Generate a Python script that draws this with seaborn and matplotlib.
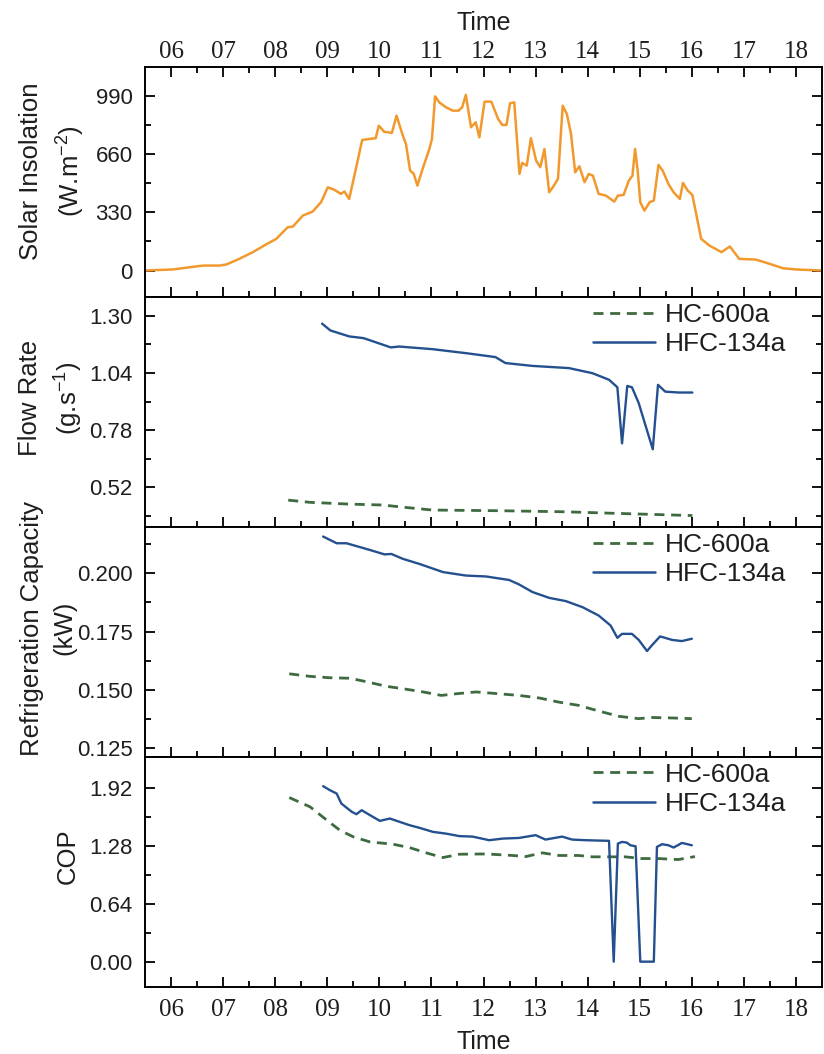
import matplotlib
matplotlib.use("Agg")
import matplotlib.pyplot as plt
import seaborn as sns
from matplotlib.lines import Line2D
from matplotlib.ticker import FixedLocator

# ---------------- data ----------------
hour_ticks = [6, 7, 8, 9, 10, 11, 12, 13, 14, 15, 16, 17, 18]
hour_labels = ["06", "07", "08", "09", "10", "11", "12", "13", "14", "15", "16", "17", "18"]

solar_time = [5.50, 6.03, 6.61, 6.93, 7.06, 7.31, 7.57, 7.82, 8.02, 8.24, 8.34, 8.53, 8.72, 8.88,
              9.01, 9.13, 9.26, 9.33, 9.42, 9.52, 9.67, 9.81, 9.93, 9.99, 10.09, 10.24, 10.33,
              10.45, 10.51, 10.59, 10.66, 10.73, 10.83, 10.96, 11.01, 11.07, 11.15, 11.28, 11.41,
              11.52, 11.59, 11.66, 11.76, 11.85, 11.92, 12.02, 12.15, 12.28, 12.36, 12.44, 12.51,
              12.59, 12.69, 12.74, 12.83, 12.91, 13.01, 13.09, 13.17, 13.26, 13.33, 13.43, 13.52,
              13.60, 13.68, 13.76, 13.84, 13.94, 14.02, 14.10, 14.21, 14.35, 14.51, 14.58, 14.69,
              14.79, 14.86, 14.91, 14.96, 15.01, 15.09, 15.19, 15.27, 15.36, 15.44, 15.55, 15.65,
              15.77, 15.83, 15.92, 16.01, 16.18, 16.34, 16.57, 16.73, 16.91, 17.23, 17.49, 17.75,
              18.00, 18.50]
solar_value = [0, 6, 28, 28, 34, 66, 104, 147, 179, 245, 249, 311, 334, 387,
               471, 458, 434, 447, 405, 537, 739, 745, 749, 820, 786, 779, 877,
               764, 717, 566, 547, 481, 575, 688, 745, 986, 952, 924, 905,
               905, 924, 994, 811, 839, 754, 956, 956, 858, 824, 824, 947,
               952, 547, 609, 594, 749, 622, 585, 688, 443, 471, 519, 933,
               886, 773, 556, 590, 500, 547, 537, 434, 424, 390, 424, 428,
               509, 537, 688, 566, 387, 339, 387, 396, 598, 566, 490, 443,
               405, 496, 453, 428, 179, 141, 104, 136, 66, 62, 38, 13,
               6, 0]

flow_hfc_time = [8.90, 9.06, 9.42, 9.70, 10.22, 10.38, 11.02, 11.66, 12.23, 12.42, 12.94, 13.64,
                 14.09, 14.41, 14.57, 14.66, 14.76, 14.85, 14.98, 15.25, 15.35, 15.49, 15.75, 16.01]
flow_hfc = [1.264, 1.233, 1.206, 1.198, 1.156, 1.160, 1.148, 1.130, 1.112, 1.085, 1.072, 1.062,
            1.039, 1.009, 0.975, 0.720, 0.981, 0.975, 0.903, 0.693, 0.986, 0.955, 0.951, 0.951]
flow_hc_time = [8.25, 8.67, 9.42, 10.06, 10.50, 11.02, 12.30, 13.58, 14.54, 16.01]
flow_hc = [0.462, 0.452, 0.444, 0.440, 0.429, 0.417, 0.414, 0.409, 0.402, 0.392]

cap_hfc_time = [8.92, 9.18, 9.37, 9.82, 10.10, 10.23, 10.45, 10.77, 11.22, 11.66, 12.05, 12.49,
                12.68, 12.94, 13.26, 13.58, 13.90, 14.21, 14.44, 14.57, 14.66, 14.85, 14.98,
                15.14, 15.23, 15.39, 15.62, 15.81, 16.00]
cap_hfc = [0.2159, 0.2130, 0.2130, 0.2101, 0.2082, 0.2084, 0.2063, 0.2041, 0.2006, 0.1991,
           0.1987, 0.1972, 0.1953, 0.1920, 0.1895, 0.1881, 0.1855, 0.1819, 0.1776, 0.1723,
           0.1740, 0.1740, 0.1714, 0.1666, 0.1690, 0.1729, 0.1714, 0.1709, 0.1719]
cap_hc_time = [8.27, 8.67, 9.05, 9.43, 9.69, 10.14, 10.45, 10.84, 11.19, 11.47, 11.86, 12.30,
               12.68, 13.07, 13.45, 13.83, 14.21, 14.60, 14.98, 15.23, 15.62, 16.00]
cap_hc = [0.1568, 0.1557, 0.1551, 0.1549, 0.1537, 0.1514, 0.1504, 0.1490, 0.1475, 0.1482,
          0.1490, 0.1482, 0.1475, 0.1464, 0.1446, 0.1432, 0.1408, 0.1385, 0.1375, 0.1380,
          0.1378, 0.1375]

cop_hfc_time = [8.92, 9.05, 9.18, 9.27, 9.47, 9.56, 9.66, 9.82, 10.01, 10.20, 10.39, 10.58,
                10.77, 11.03, 11.28, 11.54, 11.79, 12.11, 12.37, 12.68, 13.00, 13.19, 13.51,
                13.70, 13.96, 14.41, 14.50, 14.58, 14.66, 14.75, 14.82, 14.92, 15.01, 15.27,
                15.33, 15.43, 15.55, 15.65, 15.81, 16.00]
cop_hfc = [1.942, 1.898, 1.860, 1.750, 1.658, 1.632, 1.676, 1.621, 1.558, 1.584, 1.547, 1.510,
           1.481, 1.436, 1.417, 1.389, 1.384, 1.344, 1.362, 1.369, 1.400, 1.351, 1.384,
           1.351, 1.344, 1.337, 0.0, 1.307, 1.325, 1.318, 1.288, 1.277, 0.0, 0.0,
           1.270, 1.300, 1.288, 1.263, 1.314, 1.288]
cop_hc_time = [8.27, 8.67, 8.99, 9.24, 9.50, 9.82, 10.26, 10.58, 10.90, 11.22, 11.54, 12.05,
               12.56, 12.81, 13.13, 13.45, 13.83, 14.09, 14.41, 14.72, 15.04, 15.36, 15.74, 16.06]
cop_hc = [1.816, 1.713, 1.566, 1.455, 1.381, 1.325, 1.300, 1.262, 1.204, 1.152, 1.189, 1.192,
          1.175, 1.163, 1.204, 1.175, 1.175, 1.160, 1.160, 1.160, 1.141, 1.141, 1.130, 1.163]

series_labels = ["HC-600a", "HFC-134a"]
ylabels = ["Solar Insolation\n(W.m$^{-2}$)", "Flow Rate\n(g.s$^{-1}$)",
           "Refrigeration Capacity\n(kW)", "COP"]

# ---------------- style ----------------
sns.set_theme(style="ticks")
plt.rcParams["font.family"] = ["Liberation Sans", "DejaVu Sans"]
plt.rcParams["mathtext.fontset"] = "custom"
plt.rcParams["mathtext.rm"] = "Liberation Sans"
plt.rcParams["mathtext.it"] = "Liberation Sans"
plt.rcParams["mathtext.default"] = "regular"

ORANGE = "#F2992E"
BLUE = "#24508F"
GREEN = "#3D6B3F"
DASH = (0, (3.6, 2.4))
TXT = "#1e1e1e"

fig, axes = plt.subplots(4, 1, figsize=(8.24, 10.54), dpi=100,
                         gridspec_kw=dict(hspace=0))
fig.subplots_adjust(left=0.176, right=0.9976, bottom=0.0636, top=0.9364)

ax0, ax1, ax2, ax3 = axes

sns.lineplot(x=solar_time, y=solar_value, ax=ax0, color=ORANGE, linewidth=1.8,
             estimator=None, sort=False)
sns.lineplot(x=flow_hc_time, y=flow_hc, ax=ax1, color=GREEN, linewidth=2.0,
             linestyle=DASH, estimator=None, sort=False)
sns.lineplot(x=flow_hfc_time, y=flow_hfc, ax=ax1, color=BLUE, linewidth=1.7,
             estimator=None, sort=False)
sns.lineplot(x=cap_hc_time, y=cap_hc, ax=ax2, color=GREEN, linewidth=2.0,
             linestyle=DASH, estimator=None, sort=False)
sns.lineplot(x=cap_hfc_time, y=cap_hfc, ax=ax2, color=BLUE, linewidth=1.7,
             estimator=None, sort=False)
sns.lineplot(x=cop_hc_time, y=cop_hc, ax=ax3, color=GREEN, linewidth=2.0,
             linestyle=DASH, estimator=None, sort=False)
sns.lineplot(x=cop_hfc_time, y=cop_hfc, ax=ax3, color=BLUE, linewidth=1.7,
             estimator=None, sort=False)

yconf = [
    dict(lim=(-150, 1152), major=[0, 330, 660, 990], minor=[165, 495, 825], fmt="{:.0f}", lx=-0.086, ly=0.548),
    dict(lim=(0.34, 1.385), major=[0.52, 0.78, 1.04, 1.30], minor=[0.39, 0.65, 0.91, 1.17], fmt="{:.2f}", lx=-0.088, ly=0.56),
    dict(lim=(0.121, 0.220), major=[0.125, 0.150, 0.175, 0.200], minor=[0.1375, 0.1625, 0.1875, 0.2125], fmt="{:.3f}", lx=-0.101, ly=0.56),
    dict(lim=(-0.28, 2.265), major=[0.0, 0.64, 1.28, 1.92], minor=[0.32, 0.96, 1.60], fmt="{:.2f}", lx=-0.097, ly=0.57),
]

minor_hours = [h + 0.5 for h in hour_ticks[:-1]]

for i, ax in enumerate(axes):
    c = yconf[i]
    ax.set_ylim(*c["lim"])
    ax.set_yticks(c["major"], labels=[c["fmt"].format(v) for v in c["major"]])
    ax.yaxis.set_minor_locator(FixedLocator(c["minor"]))
    ax.set_xlim(5.5, 18.5)
    ax.set_xticks(hour_ticks, labels=hour_labels)
    ax.xaxis.set_minor_locator(FixedLocator(minor_hours))
    for sp in ax.spines.values():
        sp.set_linewidth(1.4)
        sp.set_color("black")
        sp.set_visible(True)
    ax.tick_params(axis="y", which="both", direction="in", left=True, right=True,
                   labelleft=True, labelright=False, labelsize=16, pad=9,
                   color="black", labelcolor=TXT)
    ax.tick_params(axis="y", which="major", length=7, width=1.3)
    ax.tick_params(axis="y", which="minor", length=4, width=1.3)
    ax.tick_params(axis="x", which="both", direction="in", bottom=True, top=False,
                   labelbottom=False, labeltop=False, color="black")
    ax.tick_params(axis="x", which="major", length=7, width=1.3)
    ax.tick_params(axis="x", which="minor", length=4, width=1.3)
    ax.set_ylabel(ylabels[i], fontsize=18.5, linespacing=1.45, color=TXT)
    ax.yaxis.set_label_coords(c["lx"], c["ly"])
    ax.set_xlabel("")
    ax.grid(False)

ax0.tick_params(axis="x", which="both", top=True, labeltop=True, labelsize=18,
                labelfontfamily="Liberation Serif", pad=3, labelcolor=TXT)
ax3.tick_params(axis="x", which="both", labelbottom=True, labelsize=18,
                labelfontfamily="Liberation Serif", pad=9, labelcolor=TXT)

ax0.xaxis.set_label_position("top")
ax0.set_xlabel("Time", fontsize=18, labelpad=8, color=TXT)
ax3.set_xlabel("Time", fontsize=18, labelpad=6, color=TXT)

handles = [Line2D([], [], color=GREEN, linewidth=2.0, linestyle=DASH),
           Line2D([], [], color=BLUE, linewidth=1.8)]
for ax in (ax1, ax2, ax3):
    ax.legend(handles, series_labels, loc="upper left", bbox_to_anchor=(0.662, 0.975),
              frameon=False, fontsize=19, handlelength=2.35, handletextpad=0.38,
              labelspacing=0.2, borderpad=0, borderaxespad=0, labelcolor=TXT)

fig.savefig("out.png", dpi=100)
